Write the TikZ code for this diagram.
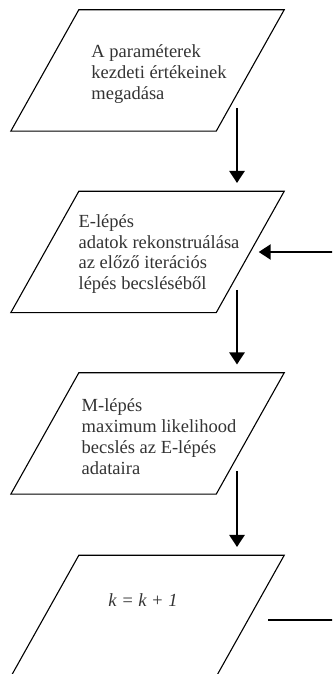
\documentclass[tikz,border=0pt]{standalone}
\usepackage{fontspec}
\setmainfont{Liberation Serif}
\usetikzlibrary{arrows.meta}
\tikzset{para/.style = {minimum width = 205pt, minimum height = 121pt, inner sep = 0}}
\tikzset{rim/.style = {draw, line width = 1.1pt, line join = miter}}
\tikzset{txt/.style = {align = left, inner sep = 0, text = black!80,
    font = \fontsize{18.5}{20.8}\selectfont}}
\tikzset{flow/.style = {line width = 2.4pt, -{Triangle[length = 12pt, width = 15pt]}}}

\begin{document}
\begin{tikzpicture}[x = 1pt, y = 1pt]
    \useasboundingbox (0, 0) rectangle (332, 674);
    \clip (0, 0) rectangle (332, 674);

    \node [para] (init) at (147.5, 603.5) {};
    \node [para] (estep) at (147.5, 422) {};
    \node [para] (mstep) at (147.5, 240.5) {};
    \node [para] (incr) at (147.5, 58) {};

    \foreach \b in {init, estep, mstep, incr}
        \draw [rim] ([xshift = 34pt]\b.north west) -- ([xshift = 34pt]\b.north east)
            -- ([xshift = -34pt]\b.south east) -- ([xshift = -34pt]\b.south west) -- cycle;

    \node [txt] (t1) at ([xshift = 11.5pt, yshift = -3.5pt]init.center)
        {A paraméterek\\kezdeti értékeinek\\megadása};
    \node [txt] (t2) at ([xshift = 11.5pt, yshift = -2pt]estep.center)
        {E-lépés\\adatok rekonstruálása\\az előző iterációs\\lépés becsléséből};
    \node [txt] (t3) at ([xshift = 11.5pt, yshift = -3pt]mstep.center)
        {M-lépés\\maximum likelihood\\becslés az E-lépés\\adataira};
    \node [txt, font = \fontsize{18.5}{20.8}\selectfont\itshape] (t4)
        at ([xshift = -4.5pt, yshift = 15.5pt]incr.center) {k = k + 1};

    \draw [flow] ([shift = {(89.5, -38)}]init.center) -- ([shift = {(89.5, 69)}]estep.center);
    \draw [flow] ([shift = {(89.5, -38)}]estep.center) -- ([shift = {(89.5, 69)}]mstep.center);
    \draw [flow] ([shift = {(89.5, -38)}]mstep.center) -- ([shift = {(89.5, 69)}]incr.center);

    % loop back to the E-step, leaves the page on the right
    \draw [flow] ([shift = {(18, -4)}]incr.east) -- ++(90, 0) |- ([xshift = 8.5pt]estep.east);
\end{tikzpicture}
\end{document}
